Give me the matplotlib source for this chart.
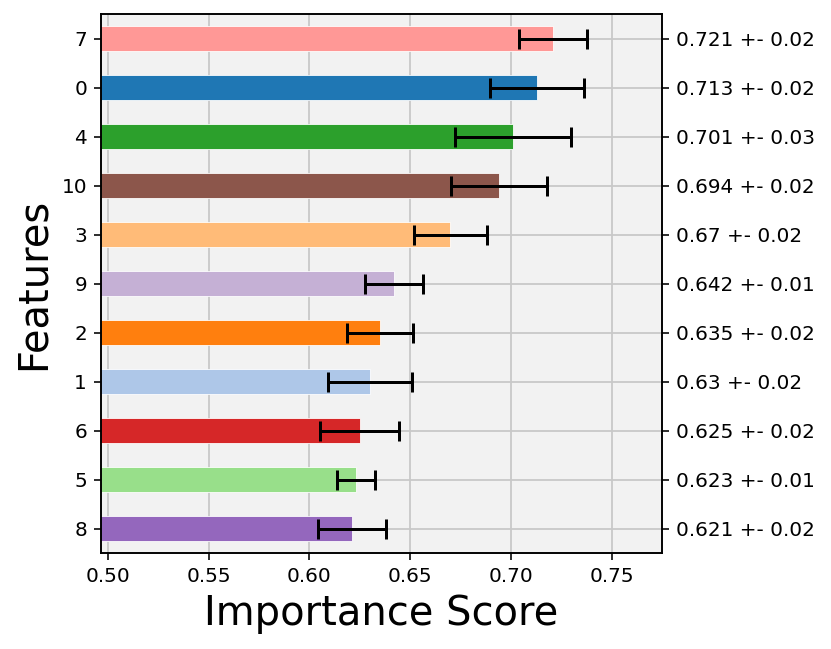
import matplotlib
matplotlib.use("Agg")
import matplotlib.pyplot as plt

features = ["8", "5", "6", "1", "2", "9", "3", "10", "4", "0", "7"]
means = [0.621, 0.623, 0.625, 0.630, 0.635, 0.642, 0.670, 0.694, 0.701, 0.713, 0.721]
stds = [0.0168, 0.0095, 0.0196, 0.0210, 0.0163, 0.0142, 0.0180, 0.0237, 0.0287, 0.0234, 0.0170]

tab20 = plt.get_cmap("tab20").colors
colors = [tab20[int(f)] for f in features]

W, H, DPI = 831, 649, 144
fig = plt.figure(figsize=(W / DPI, H / DPI), dpi=DPI)
ax = fig.add_axes([101 / W, 1 - 553 / H, (662 - 101) / W, (553 - 14) / H])
ax.set_facecolor("#f2f2f2")
ax.set_axisbelow(True)
ax.grid(True, color="#c8c8c8", linewidth=0.9)

pos = list(range(len(features)))
ax.barh(pos, means, height=0.5, color=colors, edgecolor="white", linewidth=0.4)
ax.errorbar(means, pos, xerr=stds, fmt="none", ecolor="black", elinewidth=1.5,
            capsize=5, capthick=1.5)

ax.set_xlim(0.4965, 0.775)
ax.set_ylim(-0.5, len(features) - 0.5)
ax.set_yticks(pos)
ax.set_yticklabels(features)
ax.set_xticks([0.50, 0.55, 0.60, 0.65, 0.70, 0.75])
ax.set_xticklabels(["0.50", "0.55", "0.60", "0.65", "0.70", "0.75"])
ax.set_xlabel("Importance Score", fontsize=20)
ax.set_ylabel("Features", fontsize=20)

ax2 = ax.twinx()
ax2.set_ylim(ax.get_ylim())
ax2.set_yticks(pos)
ax2.set_yticklabels([f"{round(m, 3)} +- {round(s, 2)}" for m, s in zip(means, stds)])

fig.savefig("out.png", dpi=DPI)
